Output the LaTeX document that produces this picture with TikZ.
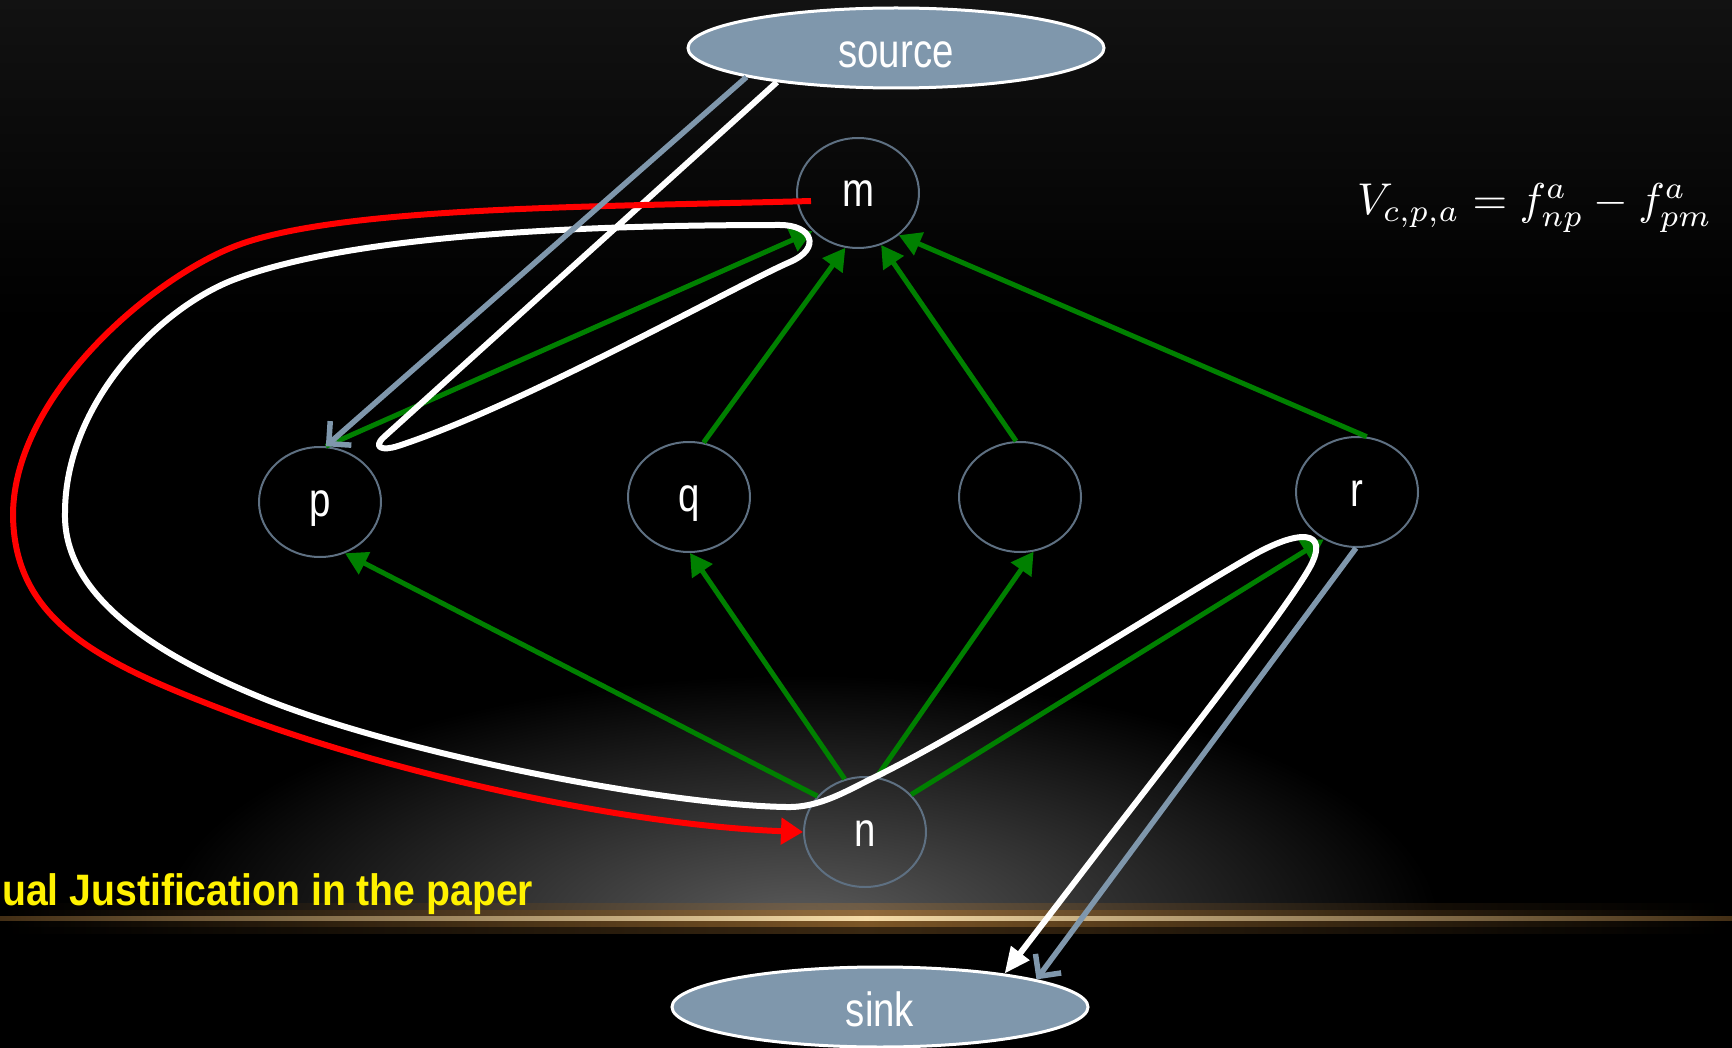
\documentclass[tikz,border=0pt]{standalone}
\usepackage{fontspec}
\setmainfont{Liberation Sans}
\newfontfamily\labfont[FakeStretch=0.8]{Liberation Sans}
\newfontfamily\yelfont[FakeStretch=0.89]{Liberation Sans}
\usetikzlibrary{arrows.meta,shapes.geometric,calc}
\definecolor{nodeline}{HTML}{5E7082}
\definecolor{slate}{HTML}{7F97AC}
\definecolor{grn}{HTML}{008000}
\definecolor{glowcore}{HTML}{F6DCA8}
\definecolor{glowmid}{HTML}{A87434}
\definecolor{topgray}{HTML}{121212}
\begin{document}
\begin{tikzpicture}[x=1pt,y=-1pt,
  vtx/.style={ellipse, draw=nodeline, line width=2pt, minimum width=122pt, minimum height=110pt,
    inner sep=0pt, text=white, text height=30pt, text depth=2pt, font=\labfont\fontsize{48}{54}\selectfont},
  term/.style={ellipse, draw=white, line width=3pt, fill=slate, minimum width=416pt, minimum height=80pt,
    inner sep=0pt, text=white, text height=39pt, text depth=0pt, font=\labfont\fontsize{48}{54}\selectfont},
  gedge/.style={draw=grn, line width=5pt, -{Triangle[length=22pt,width=24pt]}},
  bedge/.style={draw=slate, line width=5.5pt, -{Straight Barb[length=16pt,width=32pt]}},
  wpath/.style={draw=white, line width=6pt, line join=round, -{Triangle[length=26pt,width=22pt]}},
  rpath/.style={draw=red, line width=6pt, line join=round, -{Triangle[length=22pt,width=26pt]}},
]
\useasboundingbox (0,0) rectangle (1732,1048);
% background
\fill[black] (0,0) rectangle (1732,1048);
\shade[top color=topgray, bottom color=black] (0,0) rectangle (1732,320);
\begin{scope}
  \clip (0,0) rectangle (1732,918);
  \shade[inner color=black!64, outer color=black] (800,925) ellipse [x radius=640, y radius=250];
\end{scope}
\shade[left color=black, right color=black, middle color=glowmid, opacity=0.35] (0,903) rectangle (1732,933);
\shade[left color=black, right color=black, middle color=glowmid, opacity=0.6] (0,910) rectangle (1732,926);
\shade[left color=glowmid!40!black, right color=glowmid!40!black, middle color=glowcore] (0,916) rectangle (1732,920);

% nodes
\node[term] (source) at (896,48) {source};
\node[term] (sink) at (880,1007) {sink};
\node[vtx] (m) at (858,193) {m};
\node[vtx] (p) at (320,502) {p};
\node[vtx] (q) at (689,497) {q};
\node[vtx] (e) at (1020,497) {};
\node[vtx] (r) at (1357,492) {r};
\node[vtx] (n) at (865,832) {n};

% green edges
\draw[gedge] (n.143) -- (p.-64);
\draw[gedge] (n.111) -- (q.-89);
\draw[gedge] (n.78) -- (e.-76);
\draw[gedge] (n.39) -- (r.-125);
\draw[gedge] (p.84) -- (m.-140);
\draw[gedge] (q.75) -- (m.-103);
\draw[gedge] (e.94) -- (m.-66);
\draw[gedge] (r.80) -- (m.-46);

% white path
\draw[wpath] (source.196) -- (384,437)
  .. controls (372,448) and (383,451) .. (398,446)
  .. controls (521,406) and (735,286) .. (790,262)
  .. controls (822,248) and (812,225) .. (780,225)
  .. controls (560,225) and (345,237) .. (233,280)
  .. controls (159,309) and (65,403) .. (65,513)
  .. controls (63,600) and (165,659) .. (267,700)
  .. controls (406,755) and (666,805) .. (786,807)
  .. controls (820,808) and (848,790) .. (875,777)
  .. controls (975,728) and (1170,603) .. (1250,557)
  .. controls (1300,528) and (1330,530) .. (1310,567)
  .. controls (1287,609) and (1168,761) .. (1107,840)
  -- (sink.15);

% red path
\draw[rpath] ($(m.center)+(-47,8)$)
  .. controls (600,207) and (335,206) .. (233,247)
  .. controls (150,280) and (15,395) .. (13,513)
  .. controls (13,620) and (98,662) .. (224,710)
  .. controls (382,771) and (620,825) .. (n.west);

% slate edges
\draw[bedge] (source.191.5) -- (p.84.5);
\draw[bedge] (r.-91) -- (sink.10.7);

% texts
\node[anchor=base west, inner sep=0pt, text=white] (eq) at (1357,215)
  {\resizebox{355pt}{!}{$V_{c,p,a}=f^{a}_{np}-f^{a}_{pm}$}};
\node[anchor=base west, inner sep=0pt, text=yellow, font=\yelfont\bfseries\fontsize{44}{50}\selectfont]
  (note) at (2,905) {ual Justification in the paper};
\end{tikzpicture}
\end{document}
